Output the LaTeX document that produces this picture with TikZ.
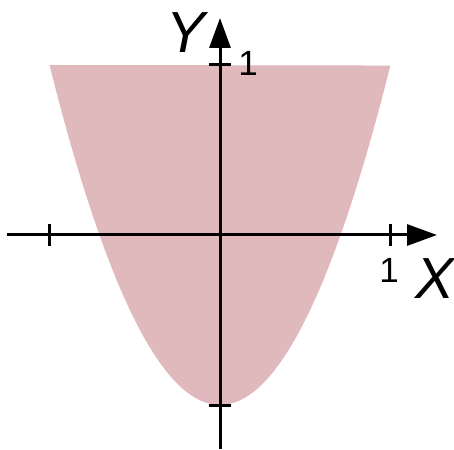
\documentclass[tikz,border=0pt]{standalone}
\usepackage{fontspec}
\setmainfont{Liberation Sans}
\usetikzlibrary{arrows.meta}
\definecolor{regionfill}{RGB}{224,185,189}
\begin{document}
\begin{tikzpicture}[x=1pt,y=1pt,
  axis/.style={line width=3pt,-{Triangle[length=30pt,width=21pt]}},
  tick/.style={line width=3pt},
  small/.style={font=\fontsize{35}{35}\selectfont, inner sep=0pt},
  big/.style={font=\fontsize{58}{58}\selectfont\itshape, inner sep=0pt}]
\useasboundingbox (0,0) rectangle (454,449);
\fill[regionfill] plot[domain=-1:1, samples=120] ({220+170.5*\x},{214+170*(2*\x*\x-1)}) -- cycle;
\coordinate (xs) at (7,214);
\coordinate (xe) at (437,214);
\coordinate (ys) at (220,0);
\coordinate (ye) at (220,431);
\draw[axis] (xs) -- (xe);
\draw[axis] (ys) -- (ye);
\draw[tick] (49.5,203) -- (49.5,225);
\draw[tick] (390.5,203) -- (390.5,225);
\draw[tick] (209,384) -- (231,384);
\draw[tick] (209,44) -- (231,44);
\node[big] (ylab) at (186,416) {Y};
\node[small] (y1) at (248,386) {1};
\node[small] (x1) at (389,179) {1};
\node[big] (xlab) at (435,170) {X};
\end{tikzpicture}
\end{document}
